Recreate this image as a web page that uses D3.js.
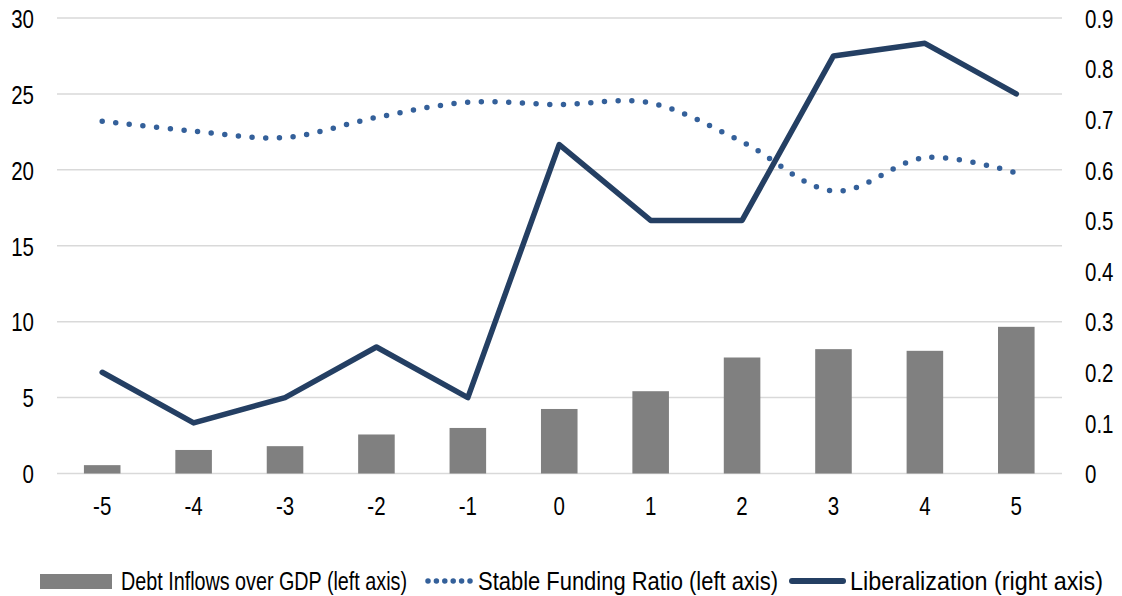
<!DOCTYPE html>
<html lang="en">
<head>
<meta charset="UTF-8">
<title>Debt inflows, stable funding and liberalization</title>
<style>
    body { margin: 0; background: #fff; }
    svg text { font-family: "Liberation Sans", Arial, sans-serif; fill: #000; }
</style>
</head>
<body>
<svg id="chart"></svg>
<script src="https://unpkg.com/d3@7.8.2/dist/d3.min.js"></script>
<script>
    const years = ['-5', '-4', '-3', '-2', '-1', '0', '1', '2', '3', '4', '5']
    const debtInflows = [0.55, 1.55, 1.8, 2.57, 3.0, 4.25, 5.42, 7.64, 8.19, 8.08, 9.66]
    const stableFunding = [23.2, 22.55, 22.13, 23.45, 24.45, 24.3, 24.4, 21.85, 18.6, 20.8, 19.8]
    const liberalization = [0.2, 0.1, 0.15, 0.25, 0.15, 0.65, 0.5, 0.5, 0.825, 0.85, 0.75]
    const leftTicks = [0, 5, 10, 15, 20, 25, 30]
    const rightTicks = [0, 0.1, 0.2, 0.3, 0.4, 0.5, 0.6, 0.7, 0.8, 0.9]
    const legendLabels = ['Debt Inflows over GDP (left axis)', 'Stable Funding Ratio (left axis)', 'Liberalization (right axis)']

    const W = 1122, H = 596
    const FS = 25, NARROW = 'scale(0.82,1)'   // no narrow font installed, squeeze it
    const svg = d3.select('#chart').attr('width', W).attr('height', H)

    const x = d3.scaleBand().domain(years).range([56.5, 1062]).paddingInner(0.6).paddingOuter(0.3)
    const xc = d => x(d) + x.bandwidth() / 2
    const yL = d3.scaleLinear().domain([0, 30]).range([473.5, 18])
    const yR = d3.scaleLinear().domain([0, 0.9]).range([473.5, 18])

    // gridlines on the left axis ticks
    svg.append('g').selectAll('line').data(leftTicks).enter().append('line')
        .attr('x1', 57).attr('x2', 1062)
        .attr('y1', d => yL(d)).attr('y2', d => yL(d))
        .attr('stroke', '#d9d9d9').attr('stroke-width', 1.5)

    // axes (text only)
    const left = svg.append('g').attr('transform', 'translate(34,0)')
        .call(d3.axisLeft(yL).tickValues(leftTicks).tickSize(0).tickPadding(0))
    const right = svg.append('g').attr('transform', 'translate(1085,0)')
        .call(d3.axisRight(yR).tickValues(rightTicks).tickSize(0).tickPadding(0).tickFormat(d3.format('~g')))
    const bottom = svg.append('g').attr('transform', 'translate(0,474)')
        .call(d3.axisBottom(x).tickSize(0).tickPadding(23))
    ;[left, right, bottom].forEach(a => {
        a.select('.domain').remove()
        a.selectAll('text').attr('font-size', FS).style('font-family', null)
            .attr('x', 0).attr('transform', NARROW)
    })
    left.selectAll('text').attr('dy', '0.37em')
    right.selectAll('text').attr('dy', '0.37em')

    const data = years.map((y, i) => ({ year: y, debt: debtInflows[i], sfr: stableFunding[i], lib: liberalization[i] }))

    // bars
    svg.append('g').selectAll('rect').data(data).enter().append('rect')
        .attr('x', d => x(d.year))
        .attr('width', x.bandwidth())
        .attr('y', d => yL(d.debt))
        .attr('height', d => yL(0) - yL(d.debt))
        .attr('fill', '#808080')

    // stable funding ratio, smoothed dotted
    svg.append('path').datum(data)
        .attr('d', d3.line().x(d => xc(d.year)).y(d => yL(d.sfr)).curve(d3.curveCardinal.tension(0)))
        .attr('fill', 'none').attr('stroke', '#34609a').attr('stroke-width', 5.5)
        .attr('stroke-linecap', 'round').attr('stroke-dasharray', '0 13.7')

    // liberalization
    svg.append('path').datum(data)
        .attr('d', d3.line().x(d => xc(d.year)).y(d => yR(d.lib)))
        .attr('fill', 'none').attr('stroke', '#243f63').attr('stroke-width', 5.5)
        .attr('stroke-linejoin', 'round').attr('stroke-linecap', 'round')

    // legend
    const lg = svg.append('g').attr('transform', 'translate(0,581)')
    lg.append('rect').attr('x', 40).attr('y', -7).attr('width', 72).attr('height', 15).attr('fill', '#808080')
    lg.append('line').attr('x1', 428).attr('x2', 470).attr('y1', 0).attr('y2', 0)
        .attr('stroke', '#34609a').attr('stroke-width', 5.5).attr('stroke-linecap', 'round').attr('stroke-dasharray', '0 8.4')
    lg.append('line').attr('x1', 792).attr('x2', 843).attr('y1', 0).attr('y2', 0)
        .attr('stroke', '#243f63').attr('stroke-width', 6).attr('stroke-linecap', 'round')
    const lx = [121, 478, 850]
    const lw = [286, 300, 253]
    lg.selectAll('g.lbl').data(legendLabels).enter().append('g')
        .attr('class', 'lbl')
        .attr('transform', (d, i) => `translate(${lx[i]},0)`)
        .append('text')
        .attr('dy', '0.36em')
        .attr('font-size', FS)
        .attr('textLength', (d, i) => lw[i])
        .attr('lengthAdjust', 'spacingAndGlyphs')
        .text(d => d)
</script>
</body>
</html>
